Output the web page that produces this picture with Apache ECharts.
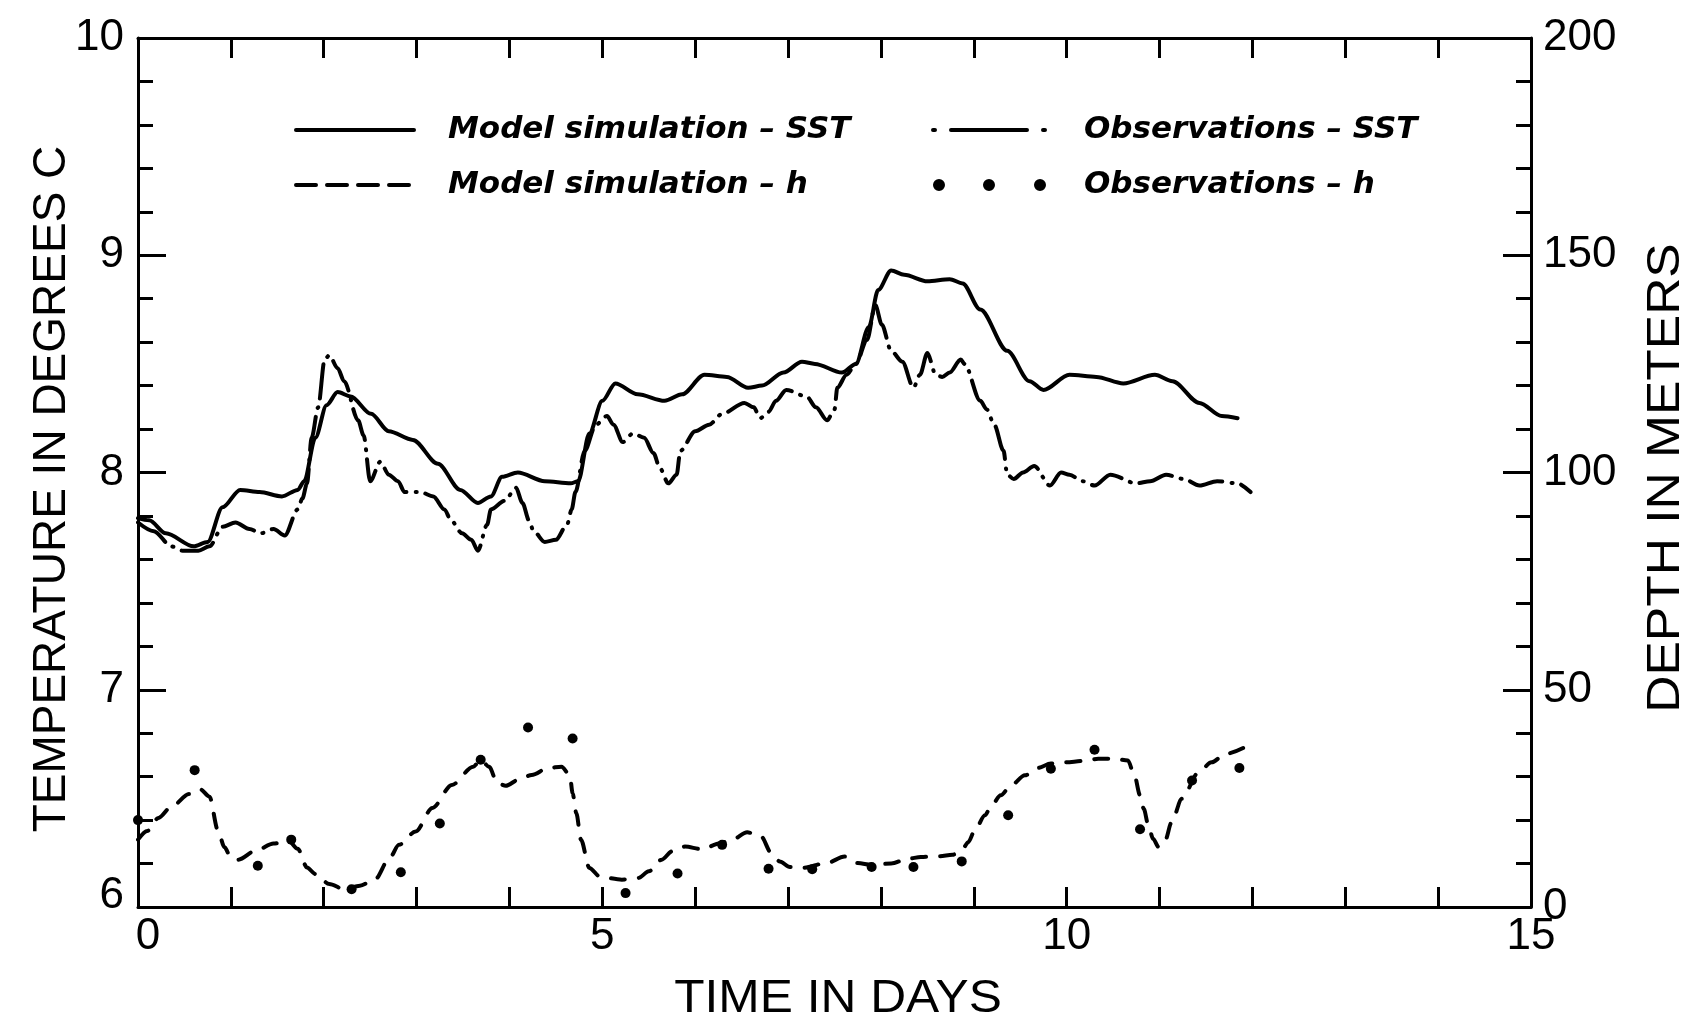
<!DOCTYPE html>
<html>
<head>
<meta charset="utf-8">
<title>Sea surface temperature and mixed layer depth</title>
<script src="https://cdn.jsdelivr.net/npm/echarts@6/dist/echarts.min.js"></script>
<style>
  html, body { margin: 0; padding: 0; background: #fff; }
  #chart { width: 1688px; height: 1021px; }
</style>
</head>
<body>
<div id="chart"></div>
<script>
// Model simulation - SST (degrees C) against time in days
const modelSstDays = [0, 0.12, 0.30, 0.60, 0.75, 0.91, 1.10, 1.31, 1.55, 1.72, 1.79, 1.91, 2.03, 2.15, 2.29, 2.51, 2.70, 2.96, 3.23, 3.47, 3.66, 3.80, 3.92, 4.09, 4.38, 4.66, 4.74, 4.86, 5.00, 5.14, 5.38, 5.67, 5.86, 6.10, 6.34, 6.57, 6.72, 6.95, 7.15, 7.29, 7.58, 7.73, 7.87, 7.97, 8.11, 8.25, 8.50, 8.74, 8.88, 9.07, 9.36, 9.60, 9.75, 10.03, 10.32, 10.61, 10.95, 11.14, 11.43, 11.67, 11.84];
const modelSstTemp = [7.79, 7.78, 7.72, 7.66, 7.68, 7.84, 7.92, 7.91, 7.89, 7.92, 7.96, 8.16, 8.31, 8.37, 8.35, 8.27, 8.19, 8.15, 8.04, 7.92, 7.86, 7.89, 7.98, 8.00, 7.96, 7.95, 7.96, 8.18, 8.33, 8.41, 8.36, 8.33, 8.36, 8.45, 8.44, 8.39, 8.40, 8.46, 8.51, 8.50, 8.46, 8.50, 8.67, 8.84, 8.93, 8.91, 8.88, 8.89, 8.87, 8.75, 8.56, 8.42, 8.38, 8.45, 8.44, 8.41, 8.45, 8.42, 8.32, 8.26, 8.25];

// Observations - SST (degrees C)
const obsSstDays = [0, 0.17, 0.36, 0.48, 0.65, 0.77, 0.91, 1.05, 1.20, 1.32, 1.46, 1.58, 1.72, 1.77, 1.82, 1.87, 1.94, 2.01, 2.06, 2.15, 2.22, 2.37, 2.43, 2.50, 2.61, 2.70, 2.80, 2.87, 3.04, 3.18, 3.30, 3.37, 3.49, 3.59, 3.66, 3.76, 3.80, 3.95, 4.07, 4.14, 4.21, 4.26, 4.38, 4.50, 4.62, 4.67, 4.71, 4.81, 4.93, 5.05, 5.12, 5.22, 5.33, 5.45, 5.55, 5.62, 5.71, 5.80, 5.84, 6.00, 6.15, 6.29, 6.53, 6.63, 6.70, 6.79, 6.87, 6.98, 7.20, 7.30, 7.42, 7.50, 7.53, 7.63, 7.73, 7.85, 7.94, 8.01, 8.11, 8.23, 8.35, 8.42, 8.50, 8.59, 8.66, 8.74, 8.86, 8.90, 9.07, 9.14, 9.22, 9.32, 9.36, 9.43, 9.53, 9.65, 9.82, 9.94, 10.03, 10.17, 10.30, 10.47, 10.75, 10.90, 11.07, 11.26, 11.43, 11.62, 11.84, 11.98];
const obsSstTemp = [7.77, 7.73, 7.66, 7.64, 7.64, 7.66, 7.75, 7.77, 7.74, 7.72, 7.74, 7.71, 7.83, 7.88, 7.95, 8.16, 8.30, 8.52, 8.54, 8.48, 8.42, 8.24, 8.17, 7.96, 8.05, 7.99, 7.96, 7.91, 7.91, 7.89, 7.83, 7.78, 7.72, 7.69, 7.64, 7.76, 7.83, 7.87, 7.93, 7.86, 7.78, 7.73, 7.68, 7.69, 7.76, 7.83, 7.91, 8.10, 8.22, 8.26, 8.22, 8.14, 8.18, 8.16, 8.09, 8.02, 7.95, 7.99, 8.10, 8.19, 8.22, 8.27, 8.32, 8.30, 8.25, 8.28, 8.33, 8.38, 8.35, 8.30, 8.24, 8.29, 8.39, 8.45, 8.50, 8.61, 8.77, 8.68, 8.56, 8.51, 8.39, 8.45, 8.55, 8.45, 8.44, 8.46, 8.52, 8.50, 8.33, 8.29, 8.22, 8.10, 7.99, 7.97, 8.00, 8.03, 7.94, 8.00, 7.99, 7.96, 7.94, 7.99, 7.95, 7.96, 7.99, 7.97, 7.94, 7.96, 7.95, 7.91];

// Model simulation - h, mixed layer depth (m)
const modelHDays = [0, 0.10, 0.22, 0.36, 0.55, 0.67, 0.77, 0.86, 0.93, 1.00, 1.08, 1.27, 1.46, 1.62, 1.72, 1.82, 1.91, 2.06, 2.22, 2.39, 2.55, 2.71, 2.81, 2.99, 3.17, 3.38, 3.61, 3.69, 3.78, 3.87, 3.96, 4.10, 4.24, 4.42, 4.56, 4.65, 4.68, 4.72, 4.77, 4.86, 4.98, 5.21, 5.39, 5.50, 5.64, 5.75, 5.89, 6.07, 6.27, 6.40, 6.56, 6.71, 6.82, 6.91, 7.02, 7.16, 7.41, 7.61, 7.75, 7.90, 8.11, 8.29, 8.43, 8.63, 8.77, 8.88, 8.94, 9.01, 9.12, 9.19, 9.29, 9.40, 9.55, 9.69, 9.83, 9.98, 10.18, 10.34, 10.52, 10.66, 10.73, 10.79, 10.83, 10.88, 10.93, 10.99, 11.06, 11.13, 11.24, 11.42, 11.56, 11.71, 11.90];
const modelHDepth = [15.5, 17.5, 20.5, 23.1, 26.0, 27.1, 25.4, 17.7, 13.8, 11.4, 10.9, 13.0, 14.6, 15.3, 13.4, 9.1, 7.6, 5.3, 4.1, 4.9, 6.3, 11.3, 14.3, 17.4, 22.8, 28.1, 32.3, 33.9, 32.3, 28.5, 27.9, 29.3, 30.4, 32.0, 32.3, 30.4, 26.2, 21.6, 15.5, 9.0, 6.9, 6.3, 6.7, 8.2, 10.9, 12.8, 13.9, 13.3, 14.7, 15.5, 17.2, 16.2, 12.4, 10.5, 9.2, 9.0, 10.1, 11.6, 10.1, 9.7, 10.0, 11.1, 11.5, 11.7, 12.0, 13.4, 14.9, 17.6, 21.1, 23.4, 25.7, 28.0, 30.3, 32.0, 33.0, 33.3, 33.6, 34.1, 34.1, 33.7, 30.3, 25.7, 22.6, 18.8, 15.7, 13.8, 15.3, 19.5, 24.9, 31.0, 33.3, 35.2, 36.6];

// Observations - h (m)
const obsHDays = [0, 0.61, 1.29, 1.65, 2.30, 2.83, 3.25, 3.69, 4.20, 4.68, 5.25, 5.81, 6.29, 6.79, 7.26, 7.90, 8.35, 8.87, 9.37, 9.83, 10.30, 10.79, 11.35, 11.86];
const obsHDepth = [20.0, 31.5, 9.5, 15.5, 4.1, 8.0, 19.2, 33.9, 41.3, 38.8, 3.2, 7.7, 14.3, 8.8, 8.7, 9.2, 9.2, 10.5, 21.1, 31.8, 36.2, 17.9, 29.1, 32.0];

// Axis tick labels
const timeTicks = [0, 5, 10, 15];
const tempTicks = [6, 7, 8, 9, 10];
const depthTicks = [0, 50, 100, 150, 200];

const seriesNames = [
  'Model simulation – SST',
  'Observations – SST',
  'Model simulation – h',
  'Observations – h'
];

const zip = (xs, ys) => xs.map((x, i) => [x, ys[i]]);

const FONT = '"Liberation Sans", Arial, sans-serif';
const LEGEND_FONT = '"DejaVu Sans", "Liberation Sans", sans-serif';
const INK = '#000';

const axisLineStyle = { color: INK, width: 3 };

function xAxisBase(position, showLabels) {
  return {
    type: 'value',
    position: position,
    min: timeTicks[0],
    max: timeTicks[timeTicks.length - 1],
    interval: timeTicks[1] - timeTicks[0],
    axisLine: { show: true, onZero: false, lineStyle: axisLineStyle },
    axisTick: { show: true, inside: true, length: 20, lineStyle: { color: INK, width: 3 } },
    minorTick: { show: true, splitNumber: 5, length: 20, lineStyle: { color: INK, width: 3 } },
    splitLine: { show: false },
    minorSplitLine: { show: false },
    axisLabel: {
      show: showLabels,
      color: INK,
      fontFamily: FONT,
      fontSize: 44,
      margin: 8,
      formatter: v => (v === timeTicks[0] ? '{first|' + v + '}' : String(v)),
      rich: {
        first: { fontFamily: FONT, fontSize: 44, color: INK, padding: [0, 0, 0, 20] }
      }
    }
  };
}

function yAxisBase(position, ticks, labelFormatter, rich) {
  return {
    type: 'value',
    position: position,
    min: ticks[0],
    max: ticks[ticks.length - 1],
    interval: ticks[1] - ticks[0],
    axisLine: { show: true, onZero: false, lineStyle: axisLineStyle },
    axisTick: { show: true, inside: true, length: 28, lineStyle: { color: INK, width: 3 } },
    minorTick: { show: true, splitNumber: 5, length: 15, lineStyle: { color: INK, width: 3 } },
    splitLine: { show: false },
    minorSplitLine: { show: false },
    axisLabel: {
      color: INK,
      fontFamily: FONT,
      fontSize: 44,
      margin: position === 'left' ? 14 : 12,
      formatter: labelFormatter,
      rich: rich
    }
  };
}

// Legend line samples carry no marker in the middle
const noMarker = { opacity: 0 };

const legendText = (padLeft) => ({
  fontFamily: LEGEND_FONT, fontStyle: 'italic', fontWeight: 'bold', fontSize: 31,
  color: INK, lineHeight: 36, padding: [0, 0, 0, padLeft]
});

const chart = echarts.init(document.getElementById('chart'), null, { renderer: 'canvas' });

const option = {
  backgroundColor: '#fff',
  animation: false,
  grid: {
    left: 138, right: 157, top: 38, bottom: 114,
    containLabel: false,
    outerBoundsMode: 'none'
  },
  xAxis: [
    xAxisBase('bottom', true),
    xAxisBase('top', false)
  ],
  yAxis: [
    yAxisBase('left', tempTicks,
      v => (v === tempTicks[0] ? '{low|' + v + '}' : String(v)),
      { low: { fontFamily: FONT, fontSize: 44, color: INK, padding: [0, 0, 22, 0] } }),
    yAxisBase('right', depthTicks, v => String(v), {})
  ],
  legend: [
    {
      orient: 'vertical',
      left: 289,
      top: 107,
      itemWidth: 118,
      itemHeight: 12,
      itemGap: 19,
      selectedMode: false,
      textStyle: legendText(29),
      data: [
        { name: seriesNames[0], itemStyle: noMarker, lineStyle: { width: 4, color: INK, cap: 'round' } },
        { name: seriesNames[2], itemStyle: noMarker, lineStyle: { width: 4, color: INK, type: [20, 11], cap: 'round' } }
      ]
    },
    {
      orient: 'vertical',
      left: 926,
      top: 107,
      itemWidth: 113,
      itemHeight: 12,
      itemGap: 19,
      selectedMode: false,
      textStyle: legendText(33),
      data: [
        { name: seriesNames[1], itemStyle: noMarker, lineStyle: { width: 4, color: INK, type: [2, 16, 76, 16], cap: 'round' } },
        {
          name: seriesNames[3],
          itemStyle: { color: INK, opacity: 1 },
          icon: 'path://M0,6a6,6 0 1,0 12,0a6,6 0 1,0 -12,0M50,6a6,6 0 1,0 12,0a6,6 0 1,0 -12,0M101,6a6,6 0 1,0 12,0a6,6 0 1,0 -12,0'
        }
      ]
    }
  ],
  graphic: [
    {
      type: 'text', x: 52, y: 489, rotation: Math.PI / 2,
      style: { text: 'TEMPERATURE IN DEGREES C', fontFamily: FONT, fontSize: 46, fill: INK, align: 'center', verticalAlign: 'middle' }
    },
    {
      type: 'text', x: 1666, y: 478, rotation: Math.PI / 2, scaleX: 1.12,
      style: { text: 'DEPTH IN METERS', fontFamily: FONT, fontSize: 46, fill: INK, align: 'center', verticalAlign: 'middle' }
    },
    {
      type: 'text', x: 838, y: 999, scaleX: 1.08,
      style: { text: 'TIME IN DAYS', fontFamily: FONT, fontSize: 46, fill: INK, align: 'center', verticalAlign: 'middle' }
    }
  ],
  series: [
    {
      name: seriesNames[0],
      type: 'line',
      xAxisIndex: 0, yAxisIndex: 0,
      data: zip(modelSstDays, modelSstTemp),
      smooth: 0.3, smoothMonotone: 'x',
      symbol: 'none',
      lineStyle: { color: INK, width: 4, cap: 'round', join: 'round' },
      itemStyle: { color: INK },
      z: 3
    },
    {
      name: seriesNames[1],
      type: 'line',
      xAxisIndex: 0, yAxisIndex: 0,
      data: zip(obsSstDays, obsSstTemp),
      smooth: 0.3, smoothMonotone: 'x',
      symbol: 'none',
      lineStyle: { color: INK, width: 4, type: [34, 9, 1, 9], cap: 'round', join: 'round' },
      itemStyle: { color: INK },
      z: 3
    },
    {
      name: seriesNames[2],
      type: 'line',
      xAxisIndex: 0, yAxisIndex: 1,
      data: zip(modelHDays, modelHDepth),
      smooth: 0.3, smoothMonotone: 'x',
      symbol: 'none',
      lineStyle: { color: INK, width: 4, type: [14, 14], cap: 'round', join: 'round' },
      itemStyle: { color: INK },
      z: 3
    },
    {
      name: seriesNames[3],
      type: 'scatter',
      xAxisIndex: 0, yAxisIndex: 1,
      data: zip(obsHDays, obsHDepth),
      symbol: 'circle',
      symbolSize: 10,
      itemStyle: { color: INK, opacity: 1 },
      z: 4
    }
  ]
};

chart.setOption(option);
</script>
</body>
</html>
